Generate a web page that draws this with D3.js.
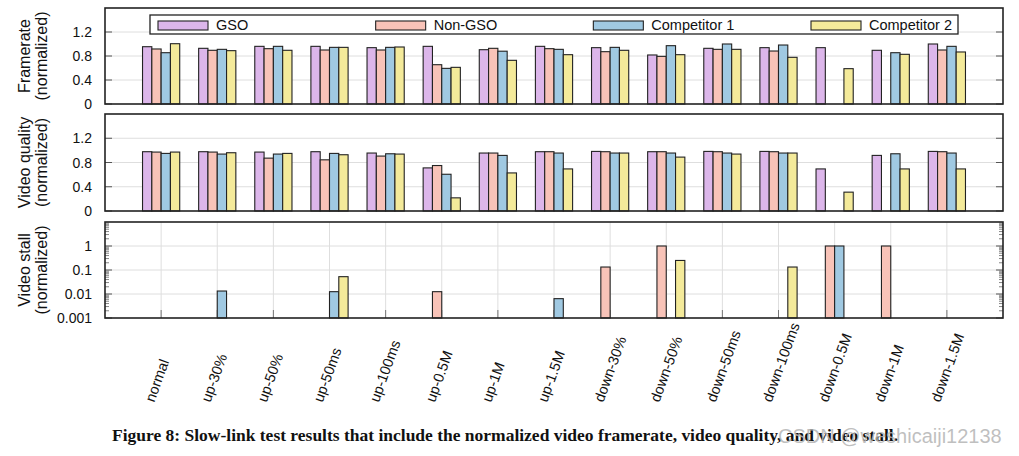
<!DOCTYPE html>
<html><head><meta charset="utf-8">
<script src="https://cdn.jsdelivr.net/npm/d3@7"></script>
<style>body{margin:0;background:#fff}svg{display:block}</style>
</head><body><svg id="c" width="1019" height="456"></svg>
<script>
const categories = ["normal","up-30%","up-50%","up-50ms","up-100ms","up-0.5M","up-1M","up-1.5M","down-30%","down-50%","down-50ms","down-100ms","down-0.5M","down-1M","down-1.5M"];
const seriesNames = ["GSO","Non-GSO","Competitor 1","Competitor 2"];
const seriesColors = ["#dcb6ea","#f8c3b8","#a0c9e2","#f4ea9a"];

const framerateGSO  = [0.955,0.928,0.961,0.961,0.939,0.961,0.905,0.961,0.939,0.817,0.928,0.939,0.939,0.895,1.0];
const framerateNon  = [0.917,0.895,0.922,0.90,0.90,0.655,0.928,0.922,0.872,0.794,0.911,0.883,null,null,0.90];
const framerateC1   = [0.855,0.911,0.961,0.944,0.944,0.594,0.880,0.911,0.944,0.972,1.0,0.983,null,0.855,0.961];
const framerateC2   = [1.005,0.889,0.895,0.944,0.95,0.611,0.728,0.822,0.895,0.822,0.911,0.778,0.589,0.828,0.867];

const qualityGSO = [0.978,0.978,0.972,0.978,0.956,0.711,0.956,0.978,0.983,0.978,0.983,0.983,0.694,0.917,0.983];
const qualityNon = [0.972,0.972,0.872,0.844,0.906,0.75,0.956,0.978,0.978,0.978,0.978,0.978,null,null,0.978];
const qualityC1  = [0.95,0.939,0.939,0.95,0.944,0.606,0.917,0.956,0.956,0.956,0.956,0.956,null,0.944,0.956];
const qualityC2  = [0.972,0.961,0.95,0.928,0.939,0.217,0.628,0.694,0.956,0.889,0.939,0.956,0.311,0.694,0.694];

const stallGSO = [null,null,null,null,null,null,null,null,null,null,null,null,null,null,null];
const stallNon = [null,null,null,null,null,0.0125,null,null,0.133,1.0,null,null,1.0,1.0,null];
const stallC1  = [null,0.0133,null,0.0125,null,null,null,0.0064,null,null,null,null,1.0,null,null];
const stallC2  = [null,null,null,0.0527,null,null,null,null,null,0.25,null,0.133,null,null,null];

const linearTicks = [0,0.4,0.8,1.2];
const linearTickLabels = ["0","0.4","0.8","1.2"];
const logTicks = [0.001,0.01,0.1,1];
const logTickLabels = ["0.001","0.01","0.1","1"];
const yLabels = [["Framerate","(normalized)"],["Video quality","(normalized)"],["Video stall","(normalized)"]];
const caption = "Figure 8: Slow-link test results that include the normalized video framerate, video quality, and video stall.";
const watermark = "CSDN @weshicaiji12138";

const svg = d3.select("#c");
const L = 105, R = 1003;
const FONT = "'Liberation Sans', Arial, sans-serif";
const x = d3.scalePoint().domain(categories).range([L, R]).padding(1);
const barW = 9.3;
const frameCol = "#222", gridCol = "#dedede";

const panels = [
  {top:8, bottom:104, log:false, data:[framerateGSO,framerateNon,framerateC1,framerateC2], vgrid:false},
  {top:114, bottom:211, log:false, data:[qualityGSO,qualityNon,qualityC1,qualityC2], vgrid:false},
  {top:222, bottom:318, log:true, data:[stallGSO,stallNon,stallC1,stallC2], vgrid:true}
];

panels.forEach((p, pi) => {
  const g = svg.append("g");
  const y = p.log ? d3.scaleLog().domain([0.001,10]).range([p.bottom,p.top])
                  : d3.scaleLinear().domain([0,1.6]).range([p.bottom,p.top]);
  const ticks = p.log ? logTicks : linearTicks;
  const labels = p.log ? logTickLabels : linearTickLabels;
  g.selectAll(".hg").data(ticks.filter(t => y(t) < p.bottom - 1)).join("line")
    .attr("x1", L).attr("x2", R).attr("y1", d => y(d)).attr("y2", d => y(d))
    .attr("stroke", gridCol).attr("stroke-width", 1);
  if (p.vgrid) {
    g.selectAll(".vg").data(categories).join("line")
      .attr("x1", d => x(d)).attr("x2", d => x(d)).attr("y1", p.top).attr("y2", p.bottom)
      .attr("stroke", gridCol).attr("stroke-width", 1);
    g.selectAll(".vt").data(categories).join("line")
      .attr("x1", d => x(d)).attr("x2", d => x(d)).attr("y1", p.bottom - 8).attr("y2", p.bottom)
      .attr("stroke", "#777").attr("stroke-width", 1);
  }
  ticks.forEach(t => {
    [[L, L + 7],[R, R - 7]].forEach(([a,b]) => {
      g.append("line").attr("x1", a).attr("x2", b).attr("y1", y(t)).attr("y2", y(t))
        .attr("stroke", "#555").attr("stroke-width", 1);
    });
  });
  if (p.log) {
    const minors = [];
    [0.001,0.01,0.1,1].forEach(d => { for (let k=2;k<=9;k++) minors.push(d*k); });
    minors.forEach(t => {
      [[L, L + 4],[R, R - 4]].forEach(([a,b]) => {
        g.append("line").attr("x1", a).attr("x2", b).attr("y1", y(t)).attr("y2", y(t))
          .attr("stroke", "#666").attr("stroke-width", 0.8);
      });
    });
  }
  g.selectAll(".tl").data(ticks).join("text")
    .attr("x", 92).attr("y", d => y(d)).attr("dy", "0.36em")
    .attr("text-anchor", "end").attr("font-family", FONT).attr("font-size", 14)
    .attr("fill", "#111").text((d,i) => labels[i]);
  p.data.forEach((arr, si) => {
    g.selectAll(".b" + si).data(arr.map((v,i) => ({v, c: categories[i]})).filter(d => d.v != null)).join("rect")
      .attr("x", d => x(d.c) + (si - 2) * barW)
      .attr("y", d => y(d.v))
      .attr("width", barW)
      .attr("height", d => p.bottom - y(d.v))
      .attr("fill", seriesColors[si])
      .attr("stroke", frameCol).attr("stroke-width", 1.1);
  });
  g.append("rect").attr("x", L).attr("y", p.top).attr("width", R - L).attr("height", p.bottom - p.top)
    .attr("fill", "none").attr("stroke", frameCol).attr("stroke-width", 1.6);
  const cy = (p.top + p.bottom) / 2;
  yLabels[pi].forEach((t, li) => {
    svg.append("text").attr("transform", `translate(${30 + li*17},${cy}) rotate(-90)`)
      .attr("text-anchor", "middle").attr("font-family", FONT).attr("font-size", 16)
      .attr("fill", "#111").text(t);
  });
});

const lg = svg.append("g");
lg.append("rect").attr("x", 150).attr("y", 15).attr("width", 808).attr("height", 19)
  .attr("fill", "#fff").attr("stroke", frameCol).attr("stroke-width", 1.3);
const legendX = d3.scalePoint().domain(seriesNames).range([158, 811]);
seriesNames.forEach((n, i) => {
  const lx = legendX(n);
  lg.append("rect").attr("x", lx).attr("y", 21).attr("width", 50).attr("height", 9)
    .attr("fill", seriesColors[i]).attr("stroke", frameCol).attr("stroke-width", 1.1);
  lg.append("text").attr("x", lx + 58).attr("y", 30).attr("font-family", FONT).attr("font-size", 14.5)
    .attr("fill", "#111").text(n);
});

svg.selectAll(".xl").data(categories).join("text")
  .attr("transform", d => `translate(${x(d) - 7},${403}) rotate(-70)`)
  .attr("text-anchor", "start").attr("font-family", FONT).attr("font-size", 14.5)
  .attr("fill", "#111").text(d => d);

svg.append("text").attr("x", 112).attr("y", 441).attr("font-family", "'Liberation Serif', 'Times New Roman', serif")
  .attr("font-weight", "bold").attr("font-size", 16).attr("fill", "#111")
  .attr("textLength", 786).attr("lengthAdjust", "spacingAndGlyphs").text(caption);
svg.append("text").attr("x", 778).attr("y", 443).attr("font-family", FONT).attr("font-size", 20)
  .attr("fill", "#b4b4b4").attr("fill-opacity", 0.85).text(watermark);
</script></body></html>
